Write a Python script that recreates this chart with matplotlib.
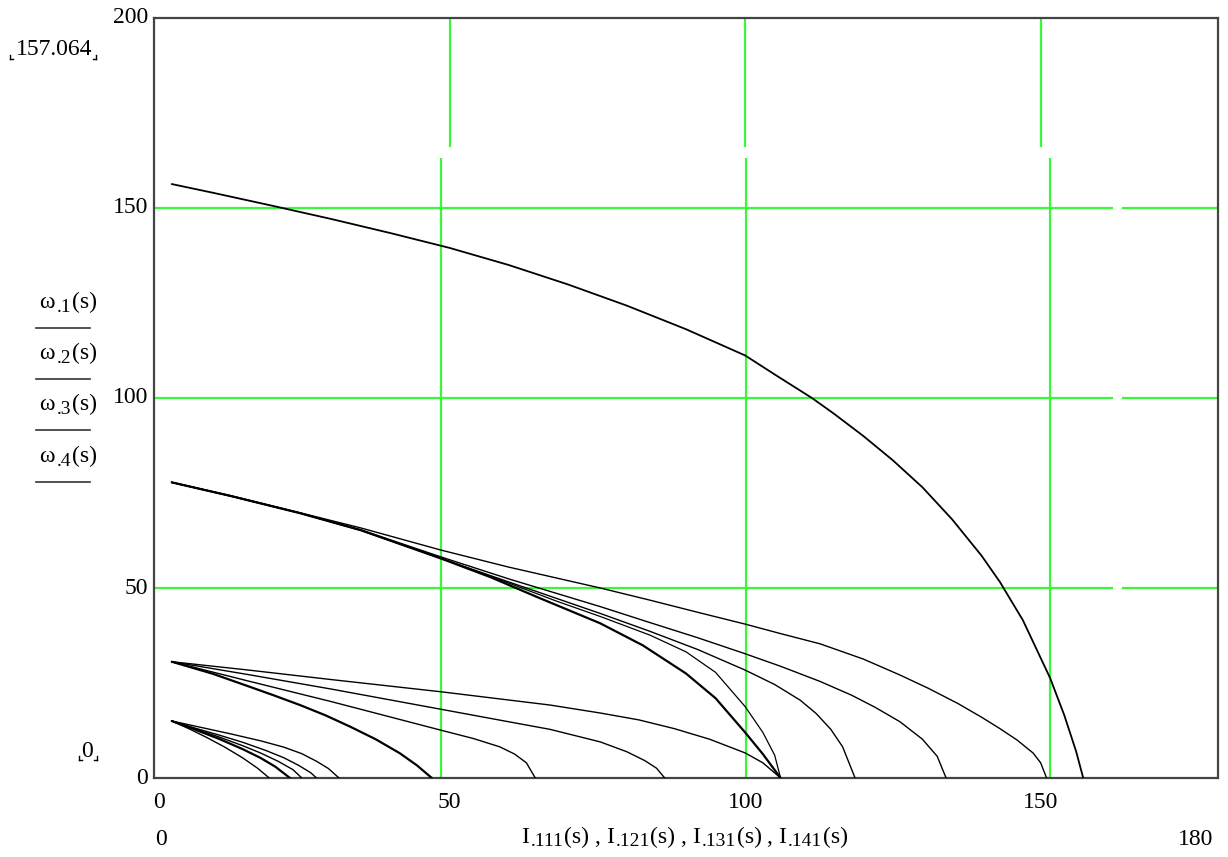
import matplotlib
matplotlib.use("Agg")
import matplotlib.pyplot as plt
from matplotlib.lines import Line2D

plt.rcParams['font.family'] = ['Liberation Serif', 'DejaVu Serif']

# ---- speed / current characteristics ----
# family 1
I_111 = [[3, 10, 20, 30, 40, 50, 60, 70, 80, 90, 100, 105, 111.3, 115, 120, 125, 130,
          135, 140, 143.1, 147, 151.6, 154, 156, 157.2]]
w_1 = [[156.3, 154.0, 150.6, 147.1, 143.4, 139.5, 135.0, 129.9, 124.3, 118.1, 111.2, 106.2,
        100.0, 95.9, 90.0, 83.6, 76.5, 68.1, 58.5, 51.6, 41.5, 26.3, 16.5, 7.0, 0]]

# family 2
I_121 = [
    [3, 13, 24.7, 35, 48.5, 60, 75.5, 83.9, 92, 100, 106, 112.7, 120, 126.2, 131, 136, 140,
     143.1, 146, 148.7, 150, 151.0],
    [3, 13, 24.7, 35, 48.5, 60, 75.5, 83.9, 92, 100, 106, 112.7, 118, 122, 126.2, 130, 132.5,
     134.0],
    [3, 13, 24.7, 35, 48.5, 60, 75.5, 83.9, 92, 100, 105, 109.3, 112, 114.5, 116.5, 118.6],
    [3, 13, 24.7, 35, 48.5, 60, 68, 75.5, 83.9, 90, 95, 100, 103, 105, 106],
    [3, 13, 24.7, 35, 48.5, 57, 65, 75.5, 82.7, 90, 95, 100, 103, 106],
]
w_2 = [
    [77.8, 74.3, 69.8, 65.8, 60.0, 55.5, 50.0, 46.8, 43.6, 40.5, 38.0, 35.3, 31.3, 27.1, 23.6,
     19.6, 16.0, 13.0, 10.0, 6.6, 4.0, 0],
    [77.8, 74.2, 69.7, 65.3, 58.2, 52.4, 45.1, 40.9, 36.9, 32.7, 29.4, 25.4, 21.8, 18.6, 14.8,
     10.2, 5.7, 0],
    [77.8, 74.2, 69.7, 65.2, 57.8, 51.6, 43.3, 38.6, 33.8, 28.4, 24.6, 20.5, 17.0, 12.8, 8.2, 0],
    [77.8, 74.2, 69.7, 65.2, 57.8, 51.3, 46.6, 42.5, 37.6, 33.2, 27.8, 18.8, 12.0, 6.0, 0],
    [77.8, 74.2, 69.7, 65.2, 57.8, 52.8, 47.5, 40.7, 34.9, 27.5, 21.0, 12.0, 6.3, 0],
]

# family 3
I_131 = [
    [3, 16, 30, 48.5, 67, 75.5, 82, 88, 94, 100, 103, 106],
    [3, 16, 30, 48.5, 60, 67, 75.5, 80, 83, 85, 86.4],
    [3, 16, 30, 48.5, 54, 58.5, 61, 63, 64.5],
    [3, 10, 16.2, 20, 24.7, 29, 33.2, 37.5, 41.6, 44.5, 47.0],
]
w_3 = [
    [30.6, 28.4, 25.9, 22.7, 19.2, 17.1, 15.3, 13.0, 10.2, 6.6, 4.0, 0],
    [30.6, 27.2, 23.4, 18.1, 14.8, 12.8, 9.5, 6.9, 4.6, 2.6, 0],
    [30.6, 25.5, 20.1, 12.6, 10.4, 8.2, 6.3, 4.0, 0],
    [30.6, 27.4, 24.0, 21.9, 19.2, 16.5, 13.5, 10.2, 6.5, 3.3, 0],
]

# family 4
I_141 = [
    [3, 6, 9, 12, 15, 17.5, 19.5],
    [3, 7, 11, 15, 18, 20.5, 23],
    [3, 7, 11, 15, 18, 21, 23.5, 25],
    [3, 7, 11, 15, 19, 22, 24.5, 26.5, 27.5],
    [3, 8, 13, 18, 22, 25, 27.5, 29.5, 31.3],
]
w_4 = [
    [15, 12.9, 10.6, 8.1, 5.3, 2.6, 0],
    [15, 12.7, 10.3, 7.6, 5.3, 3.0, 0],
    [15, 12.9, 10.8, 8.5, 6.6, 4.4, 2.2, 0],
    [15, 13.1, 11.3, 9.4, 7.2, 5.3, 3.3, 1.4, 0],
    [15, 13.3, 11.6, 9.8, 8.1, 6.4, 4.4, 2.5, 0],
]

x_ticks = [0, 50, 100, 150]
y_ticks = [0, 50, 100, 150, 200]
x_lim = (0, 180)
y_lim = (0, 200)
y_marker = "157.064"

# line widths per curve
widths_1 = [1.3]
widths_2 = [1.0, 1.0, 1.0, 0.9, 1.6]
widths_3 = [1.0, 1.0, 1.0, 1.6]
widths_4 = [1.0, 1.6, 1.0, 1.0, 1.0]

W, H = 1228, 857
fig = plt.figure(figsize=(W / 100, H / 100), dpi=100)
ax = fig.add_axes([154 / W, 1 - 778 / H, (1218 - 154) / W, (778 - 18) / H])
ax.set_xlim(*x_lim)
ax.set_ylim(*y_lim)

green = '#38f838'
# grid: vertical lines drawn in two offset pieces, horizontal lines with a gap
for gx, lx in zip([50, 100, 150], [48.6, 100.1, 151.5]):
    ax.plot([gx, gx], [166.0, 200], color=green, lw=1.6, zorder=1, solid_capstyle='butt')
    ax.plot([lx, lx], [0, 163.2], color=green, lw=1.6, zorder=1, solid_capstyle='butt')
for gy in [50, 100, 150]:
    ax.plot([0, 162.2], [gy, gy], color=green, lw=1.6, zorder=1, solid_capstyle='butt')
    ax.plot([163.8, 180], [gy, gy], color=green, lw=1.6, zorder=1, solid_capstyle='butt')

for Is, ws, lws in [(I_111, w_1, widths_1), (I_121, w_2, widths_2),
                    (I_131, w_3, widths_3), (I_141, w_4, widths_4)]:
    for xs, ys, lw in zip(Is, ws, lws):
        ax.plot(xs, ys, color='black', lw=lw, zorder=3,
                solid_joinstyle='round', solid_capstyle='round')

for s in ax.spines.values():
    s.set_color('#444444')
    s.set_linewidth(1.6)
ax.set_xticks([])
ax.set_yticks([])

fs = 17
sub = 14
renderer = fig.canvas.get_renderer()


def px(x, y):
    return x / W, 1 - y / H


def rich_text(x0, base, parts, ha='left'):
    """Write text pieces one after another: (string, size, drop_px, gap_px)."""
    arts = []
    x = x0
    for s, size, dy, gap in parts:
        t = fig.text(*px(x, base + dy), s, fontsize=size, ha='left', va='baseline')
        bb = t.get_window_extent(renderer)
        arts.append((t, x, base + dy))
        x += bb.width + gap
    if ha == 'center':
        shift = (x - x0) / 2
        for t, xx, yy in arts:
            t.set_position(px(xx - shift, yy))


# y tick labels
for v in y_ticks:
    ax.text(-1.0, v, str(v), ha='right', va='center', fontsize=fs)
# x tick labels
for v in x_ticks:
    xv = 154 + (v - x_lim[0]) / (x_lim[1] - x_lim[0]) * (1218 - 154)
    if v == 0:
        xv += 5
    fig.text(*px(xv, 808), str(v), ha='center', va='baseline', fontsize=fs)

# axis limits under the axis
fig.text(*px(155, 845), str(x_lim[0]), ha='left', va='baseline', fontsize=fs)
fig.text(*px(1213, 845), str(x_lim[1]), ha='right', va='baseline', fontsize=fs)

# x axis expression
parts = []
for i, n in enumerate(['111', '121', '131', '141']):
    parts += [('I', fs, 0, 1.5), ('.' + n, sub, 3, 0.5), ('(s)', fs, 0, 5)]
    if i < 3:
        parts += [(',', fs, 0, 6)]
rich_text(687, 843, parts, ha='center')

# stacked y axis expressions with underlines
for k, ly in enumerate([328, 379, 430, 482], start=1):
    rich_text(39, ly - 20, [('ω', fs, 0, 2), ('.%d' % k, sub, 4, 1), ('(s)', fs, 0, 0)])
    fig.add_artist(Line2D([36 / W, 90 / W], [1 - ly / H, 1 - ly / H], color='#333333', lw=1.2))


# marker values with corner brackets
def bracketed(txt, cx, base, x0, x1, yb):
    fig.text(*px(cx, base), txt, ha='center', va='baseline', fontsize=fs)
    for xa, xb in [(x0, x0 + 3), (x1, x1 - 3)]:
        fig.add_artist(Line2D([xa / W, xa / W], [1 - (yb - 4) / H, 1 - yb / H], color='black', lw=1.0))
        fig.add_artist(Line2D([xa / W, xb / W], [1 - yb / H, 1 - yb / H], color='black', lw=1.0))


bracketed(y_marker, 54, 55, 10, 96, 59)
bracketed('0', 87, 757, 79, 97, 760)

fig.savefig('out.png', dpi=100, facecolor='white')
